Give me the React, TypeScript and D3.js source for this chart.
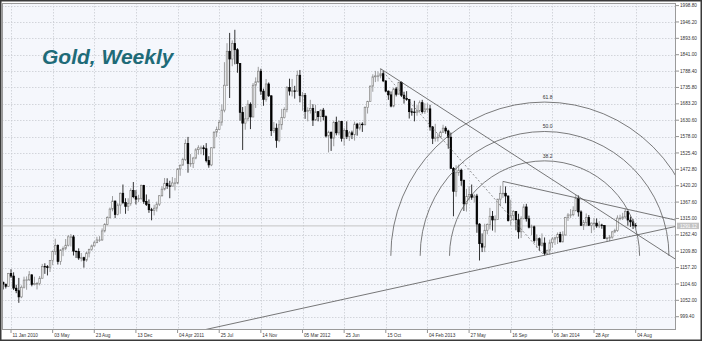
import React from 'react';
import * as d3 from 'd3';

// Weekly OHLC [open, high, low, close]
const bars2009: number[][] = [
  [1110, 1112, 1087, 1104], [1104, 1105, 1090, 1097],
];
const bars2010: number[][] = [
  [1097, 1140, 1095, 1138], [1138, 1152, 1124, 1130], [1130, 1142, 1085, 1091], [1091, 1102, 1075, 1083],
  [1083, 1124, 1044, 1063], [1063, 1100, 1059, 1094], [1094, 1128, 1090, 1117], [1117, 1129, 1086, 1118],
  [1118, 1146, 1114, 1134], [1134, 1135, 1097, 1103], [1103, 1128, 1100, 1106], [1106, 1111, 1087, 1106],
  [1106, 1130, 1100, 1123], [1123, 1169, 1122, 1161], [1161, 1171, 1137, 1160], [1160, 1165, 1132, 1157],
  [1157, 1180, 1143, 1180], [1180, 1212, 1165, 1209], [1209, 1250, 1198, 1228], [1228, 1232, 1167, 1177],
  [1177, 1216, 1166, 1214], [1214, 1225, 1194, 1219], [1219, 1249, 1213, 1229], [1229, 1262, 1225, 1256],
  [1256, 1265, 1225, 1256], [1256, 1262, 1196, 1210], [1210, 1211, 1188, 1209], [1209, 1219, 1182, 1188],
  [1188, 1204, 1177, 1189], [1189, 1192, 1157, 1181], [1181, 1208, 1176, 1204], [1204, 1218, 1190, 1215],
  [1215, 1231, 1211, 1227], [1227, 1243, 1225, 1237], [1237, 1256, 1236, 1246], [1246, 1258, 1240, 1246],
  [1246, 1283, 1243, 1275], [1275, 1300, 1270, 1296], [1296, 1322, 1293, 1318], [1318, 1350, 1315, 1345],
  [1345, 1387, 1338, 1371], [1371, 1372, 1316, 1328], [1328, 1364, 1325, 1358], [1358, 1398, 1330, 1396],
  [1396, 1424, 1361, 1366], [1366, 1380, 1330, 1353], [1353, 1380, 1339, 1363], [1363, 1412, 1356, 1405],
  [1405, 1432, 1380, 1385], [1385, 1406, 1360, 1377], [1377, 1391, 1368, 1379], [1379, 1424, 1375, 1421],
];
const bars2011: number[][] = [
  [1421, 1423, 1362, 1369], [1369, 1392, 1355, 1360], [1360, 1376, 1333, 1343], [1343, 1349, 1309, 1341],
  [1341, 1359, 1325, 1348], [1348, 1369, 1337, 1361], [1361, 1390, 1355, 1388], [1388, 1418, 1385, 1409],
  [1409, 1445, 1405, 1428], [1428, 1444, 1410, 1420], [1420, 1436, 1380, 1419], [1419, 1448, 1418, 1429],
  [1429, 1445, 1405, 1429], [1429, 1476, 1425, 1474], [1474, 1488, 1452, 1486], [1486, 1510, 1486, 1504],
  [1504, 1569, 1500, 1556], [1556, 1577, 1462, 1492], [1492, 1522, 1481, 1492], [1492, 1513, 1477, 1509],
  [1509, 1541, 1505, 1536], [1536, 1550, 1520, 1542], [1542, 1549, 1521, 1542], [1542, 1550, 1518, 1539],
  [1539, 1557, 1495, 1501], [1501, 1515, 1478, 1487], [1487, 1544, 1483, 1542], [1542, 1595, 1540, 1592],
  [1592, 1610, 1577, 1601], [1601, 1632, 1600, 1624], [1624, 1681, 1613, 1663], [1663, 1817, 1656, 1743],
  [1743, 1878, 1741, 1852], [1852, 1911, 1702, 1827], [1827, 1887, 1804, 1877], [1877, 1921, 1810, 1857],
  [1857, 1862, 1783, 1813], [1813, 1814, 1629, 1656], [1656, 1673, 1535, 1621], [1621, 1676, 1600, 1635],
  [1635, 1695, 1627, 1682], [1682, 1688, 1602, 1641], [1641, 1750, 1640, 1743], [1743, 1768, 1670, 1754],
  [1754, 1802, 1751, 1788], [1788, 1796, 1712, 1724], [1724, 1732, 1677, 1697], [1697, 1763, 1690, 1747],
  [1747, 1752, 1705, 1709], [1709, 1710, 1580, 1597], [1597, 1625, 1590, 1605], [1605, 1620, 1542, 1565],
];
const bars2012: number[][] = [
  [1565, 1630, 1560, 1616], [1616, 1667, 1600, 1639], [1639, 1672, 1636, 1665], [1665, 1740, 1656, 1736],
  [1736, 1764, 1710, 1724], [1724, 1763, 1707, 1725], [1725, 1741, 1700, 1724], [1724, 1790, 1723, 1775],
  [1775, 1792, 1688, 1710], [1710, 1721, 1661, 1710], [1710, 1718, 1635, 1659], [1659, 1672, 1627, 1662],
  [1662, 1696, 1652, 1668], [1668, 1682, 1612, 1631], [1631, 1680, 1628, 1658], [1658, 1660, 1627, 1642],
  [1642, 1666, 1625, 1663], [1663, 1670, 1630, 1642], [1642, 1646, 1575, 1580], [1580, 1597, 1527, 1592],
  [1592, 1594, 1532, 1573], [1573, 1629, 1547, 1623], [1623, 1642, 1582, 1590], [1590, 1630, 1582, 1627],
  [1627, 1628, 1562, 1572], [1572, 1605, 1549, 1598], [1598, 1627, 1570, 1578], [1578, 1596, 1564, 1590],
  [1590, 1597, 1570, 1584], [1584, 1626, 1565, 1618], [1618, 1622, 1581, 1605], [1605, 1624, 1598, 1618],
  [1618, 1624, 1593, 1616], [1616, 1675, 1614, 1671], [1671, 1693, 1652, 1691], [1691, 1742, 1691, 1740],
  [1740, 1778, 1722, 1770], [1770, 1789, 1753, 1773], [1773, 1787, 1755, 1773], [1773, 1796, 1765, 1780],
  [1780, 1789, 1753, 1757], [1757, 1758, 1720, 1724], [1724, 1726, 1696, 1712], [1712, 1723, 1672, 1676],
  [1676, 1735, 1672, 1731], [1731, 1737, 1707, 1714], [1714, 1754, 1713, 1752], [1752, 1755, 1705, 1711],
  [1711, 1722, 1684, 1701], [1701, 1724, 1693, 1697], [1697, 1699, 1636, 1658], [1658, 1669, 1645, 1657],
  [1657, 1693, 1627, 1656],
];
const bars2013: number[][] = [
  [1656, 1679, 1645, 1661], [1661, 1694, 1655, 1687], [1687, 1696, 1652, 1658], [1658, 1685, 1651, 1667],
  [1667, 1685, 1655, 1667], [1667, 1680, 1597, 1609], [1609, 1612, 1554, 1572], [1572, 1619, 1562, 1576],
  [1576, 1588, 1562, 1576], [1576, 1597, 1573, 1592], [1592, 1616, 1590, 1605], [1605, 1611, 1587, 1596],
  [1596, 1600, 1539, 1576], [1576, 1591, 1476, 1476], [1476, 1480, 1322, 1402], [1402, 1486, 1385, 1462],
  [1462, 1488, 1452, 1470], [1470, 1475, 1420, 1437], [1437, 1440, 1339, 1362], [1362, 1410, 1337, 1386],
  [1386, 1418, 1372, 1392], [1392, 1424, 1375, 1383], [1383, 1393, 1366, 1387], [1387, 1394, 1269, 1297],
  [1297, 1300, 1180, 1234], [1234, 1267, 1207, 1223], [1223, 1298, 1207, 1277], [1277, 1299, 1264, 1296],
  [1296, 1349, 1280, 1322], [1322, 1339, 1276, 1310], [1310, 1325, 1270, 1312], [1312, 1378, 1310, 1377],
  [1377, 1420, 1354, 1395], [1395, 1434, 1381, 1396], [1396, 1418, 1364, 1387], [1387, 1389, 1305, 1308],
  [1308, 1375, 1292, 1325], [1325, 1342, 1310, 1337], [1337, 1337, 1277, 1311], [1311, 1330, 1250, 1272],
  [1272, 1322, 1252, 1315], [1315, 1361, 1312, 1352], [1352, 1362, 1305, 1314], [1314, 1324, 1283, 1287],
  [1287, 1295, 1261, 1288], [1288, 1292, 1237, 1244], [1244, 1264, 1221, 1250], [1250, 1254, 1211, 1229],
  [1229, 1267, 1225, 1236], [1236, 1254, 1197, 1203], [1203, 1214, 1198, 1213], [1213, 1247, 1199, 1237],
];
const bars2014: number[][] = [
  [1237, 1255, 1221, 1249], [1249, 1256, 1230, 1253], [1253, 1270, 1233, 1264], [1264, 1272, 1238, 1240],
  [1240, 1274, 1238, 1262], [1262, 1320, 1260, 1318], [1318, 1332, 1307, 1326], [1326, 1345, 1317, 1327],
  [1327, 1354, 1322, 1340], [1340, 1391, 1338, 1379], [1379, 1389, 1321, 1336], [1336, 1341, 1291, 1293],
  [1293, 1310, 1278, 1302], [1302, 1331, 1291, 1318], [1318, 1326, 1291, 1293], [1293, 1302, 1268, 1300],
  [1300, 1316, 1277, 1300], [1300, 1315, 1285, 1291], [1291, 1306, 1284, 1294], [1294, 1298, 1282, 1292],
  [1292, 1294, 1250, 1251], [1251, 1256, 1241, 1252], [1252, 1262, 1242, 1255], [1255, 1275, 1250, 1272],
  [1272, 1282, 1268, 1276], [1276, 1325, 1272, 1316], [1316, 1327, 1309, 1316], [1316, 1333, 1310, 1320],
  [1320, 1346, 1314, 1338], [1338, 1339, 1292, 1310], [1310, 1321, 1288, 1304], [1304, 1313, 1281, 1293],
  [1293, 1300, 1285, 1291],
];

const xTickLabels = [
  '11 Jan 2010', '03 May', '23 Aug', '13 Dec', '04 Apr 2011', '25 Jul', '14 Nov', '05 Mar 2012',
  '25 Jun', '15 Oct', '04 Feb 2013', '27 May', '16 Sep', '06 Jan 2014', '28 Apr', '04 Aug',
];
const xTickBars = [3, 19, 35, 51, 67, 83, 99, 115, 131, 147, 163, 179, 195, 211, 227, 243];
const yTicks = [
  999.4, 1052.0, 1104.6, 1157.2, 1209.8, 1262.4, 1315.0, 1367.6, 1420.2, 1472.8,
  1525.4, 1578.0, 1630.6, 1683.2, 1735.8, 1788.4, 1841.0, 1893.6, 1946.2, 1998.8,
];
const currentPrice = 1291.12;
const fibLevels = [38.2, 50.0, 61.8];
// drawing anchors [barIndex, price]
const fibAnchors = [[145, 1796], [208, 1195]];
const rayA = [[145, 1796], [220, 1391]];
const rayB = [[192, 1434], [239, 1346]];
const supportLine = [[208, 1197], [232, 1241]];

const allBars = [...bars2009, ...bars2010, ...bars2011, ...bars2012, ...bars2013, ...bars2014];

const W = 702, H = 341;
const L = 2, R = 676, T = 3, B = 330;

export default function App() {
  const x = d3.scaleLinear().domain([-0.46, 258.5]).range([L, R]);
  const y = d3.scaleLinear().domain([956.7, 2007.1]).range([B, T]);

  const font = "'Liberation Sans', Arial, sans-serif";

  const ray = (pts: number[][]) => {
    const x1 = x(pts[0][0]), y1 = y(pts[0][1]);
    const x2 = x(pts[1][0]), y2 = y(pts[1][1]);
    const s = (y2 - y1) / (x2 - x1);
    return { x1, y1, x2: R, y2: y1 + s * (R - x1) };
  };
  const fullLine = (pts: number[][]) => {
    const x1 = x(pts[0][0]), y1 = y(pts[0][1]);
    const x2 = x(pts[1][0]), y2 = y(pts[1][1]);
    const s = (y2 - y1) / (x2 - x1);
    return { x1: L, y1: y1 + s * (L - x1), x2: R, y2: y1 + s * (R - x1) };
  };
  const lA = ray(rayA);
  const lB = ray(rayB);
  const lS = fullLine(supportLine);

  const fx1 = x(fibAnchors[0][0]), fy1 = y(fibAnchors[0][1]);
  const fx2 = x(fibAnchors[1][0]), fy2 = y(fibAnchors[1][1]);
  const fd = Math.hypot(fx2 - fx1, fy2 - fy1);

  const bw = 1.6;

  return (
    <svg width={W} height={H} style={{ position: 'absolute', left: 0, top: 0, background: '#fff' }}>
      <defs>
        <clipPath id="plot"><rect x={L} y={T} width={R - L} height={B - T} /></clipPath>
      </defs>
      <rect x={0.75} y={0.75} width={W - 1.5} height={H - 1.5} fill="#fff" stroke="#3a3a3a" strokeWidth={1.5} />
      <rect x={L} y={T} width={R - L} height={B - T} fill="#f5f7fc" />
      {/* grid */}
      <g stroke="#c9cbd2" strokeWidth={0.8} strokeDasharray="1.5,1.5">
        {yTicks.map((t, i) => (
          <line key={'gy' + i} x1={L} x2={R} y1={Math.round(y(t)) + 0.5} y2={Math.round(y(t)) + 0.5} />
        ))}
        {xTickBars.map((b, i) => (
          <line key={'gx' + i} x1={Math.round(x(b)) + 0.5} x2={Math.round(x(b)) + 0.5} y1={T} y2={B} />
        ))}
      </g>
      {/* current price line */}
      <line x1={L} x2={R} y1={y(currentPrice)} y2={y(currentPrice)} stroke="#c4c4c4" strokeWidth={1} />
      {/* title */}
      <text x={42} y={64} fontFamily={font} fontSize={21} fontWeight="bold" fontStyle="italic" fill="#1e6b78">Gold, Weekly</text>
      {/* candles */}
      <g clipPath="url(#plot)">
        {allBars.map((d, i) => {
          const [o, h, l, c] = d;
          const up = c >= o;
          const cx = x(i);
          const col = up ? '#858585' : '#000';
          const top = y(Math.max(o, c)), bot = y(Math.min(o, c));
          return (
            <g key={i}>
              <line x1={cx} x2={cx} y1={y(h)} y2={y(l)} stroke={col} strokeWidth={0.8} />
              <rect x={cx - bw / 2} y={top} width={bw} height={Math.max(0.6, bot - top)}
                fill={up ? '#ffffff' : '#000'} stroke={col} strokeWidth={0.7} />
            </g>
          );
        })}
      </g>
      {/* drawings */}
      <g clipPath="url(#plot)" fill="none">
        <line {...lA} stroke="#555" strokeWidth={0.8} />
        <line {...lB} stroke="#555" strokeWidth={0.8} />
        <line {...lS} stroke="#555" strokeWidth={0.8} />
        <line x1={fx1} y1={fy1} x2={fx2} y2={fy2} stroke="#666" strokeWidth={0.7} strokeDasharray="2,2" />
        {fibLevels.map((lv, i) => {
          const r = (lv / 100) * fd;
          return (
            <g key={'fib' + i}>
              <path d={`M ${fx2 - r} ${fy2} A ${r} ${r} 0 0 1 ${fx2 + r} ${fy2}`} stroke="#5a5a5a" strokeWidth={0.8} />
              <text x={fx2 + 3} y={fy2 - r - 3} fontFamily={font} fontSize={5} fill="#333" stroke="none" textAnchor="middle">{lv.toFixed(1)}</text>
            </g>
          );
        })}
      </g>
      {/* plot border */}
      <rect x={L + 0.5} y={T + 0.5} width={R - L - 1} height={B - T - 1} fill="none" stroke="#9a9a9a" strokeWidth={1} />
      {/* y axis */}
      {yTicks.map((t, i) => (
        <g key={'yl' + i}>
          <line x1={R} x2={R + 3} y1={y(t)} y2={y(t)} stroke="#777" strokeWidth={0.8} />
          <text x={R + 4} y={y(t)} dy="0.35em" fontFamily={font} fontSize={4.7} fill="#333">{t.toFixed(2)}</text>
        </g>
      ))}
      <rect x={R + 1} y={y(currentPrice) - 3.2} width={22} height={6.4} fill="#c4c4c4" />
      <text x={R + 4} y={y(currentPrice)} dy="0.35em" fontFamily={font} fontSize={4.7} fill="#fff">{currentPrice.toFixed(2)}</text>
      {/* x axis */}
      {xTickBars.map((b, i) => (
        <g key={'xl' + i}>
          <line x1={x(b)} x2={x(b)} y1={B} y2={B + 3} stroke="#777" strokeWidth={0.8} />
          <text x={x(b) + 1.5} y={337.3} fontFamily={font} fontSize={4.7} fill="#333">{xTickLabels[i]}</text>
        </g>
      ))}
    </svg>
  );
}
